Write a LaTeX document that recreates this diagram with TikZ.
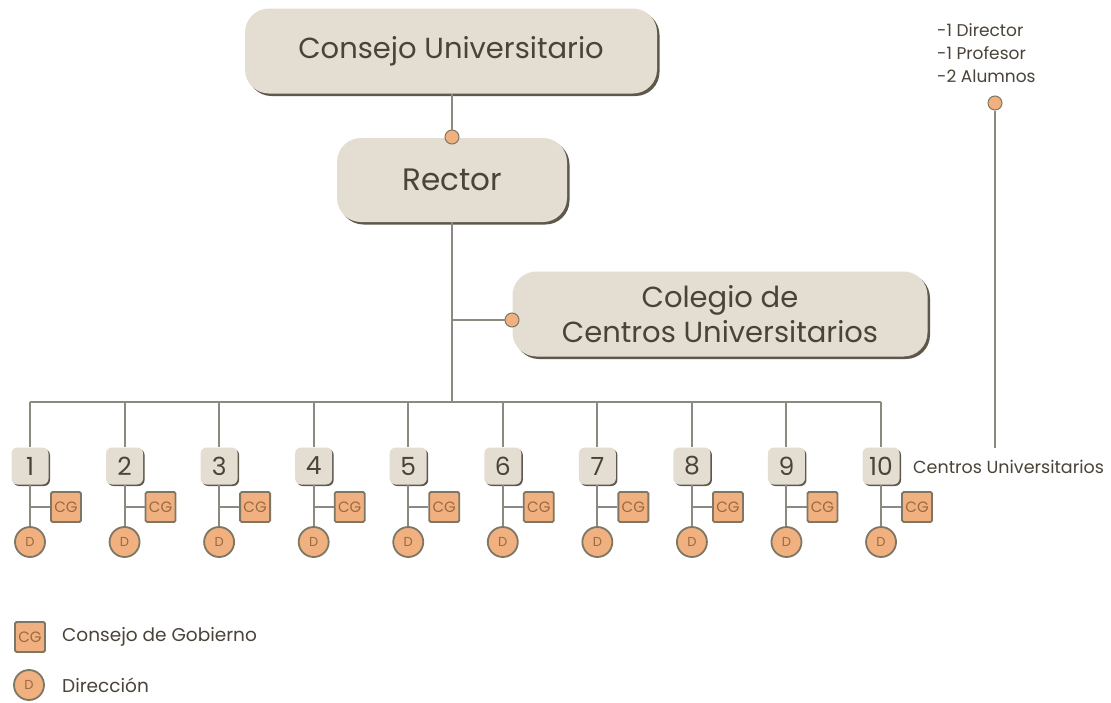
\documentclass[tikz,border=0pt]{standalone}
\usepackage{fontspec}
\setmainfont{Poppins}
\usetikzlibrary{shadows}
\definecolor{boxfill}{HTML}{E4DDD1}
\definecolor{boxshadow}{HTML}{5E584C}
\definecolor{txt}{HTML}{4A4438}
\definecolor{orangefill}{HTML}{F0B07F}
\definecolor{orangeline}{HTML}{7E7763}
\definecolor{orangetxt}{HTML}{9A6A40}
\definecolor{linec}{HTML}{8C8A80}
\tikzset{
  bigbox/.style={rectangle, rounded corners=24pt, fill=boxfill, text=txt,
    drop shadow={shadow xshift=2.5pt, shadow yshift=-2.5pt, fill=boxshadow, opacity=1},
    font=\fontsize{29}{35}\selectfont, align=center, inner sep=0pt},
  numbox/.style={rectangle, rounded corners=6pt, fill=boxfill, text=txt,
    drop shadow={shadow xshift=1.5pt, shadow yshift=-1.5pt, fill=boxshadow, opacity=1},
    minimum width=37pt, minimum height=37pt, inner sep=0pt,
    font=\fontsize{25}{25}\selectfont},
  cgbox/.style={rectangle, fill=orangefill, draw=orangeline, line width=1.8pt,
    rounded corners=1.5pt, minimum size=30pt, inner sep=0pt, text=orangetxt,
    font=\fontsize{15}{15}\selectfont},
  dcirc/.style={circle, fill=orangefill, draw=orangeline, line width=1.8pt,
    minimum size=30pt, inner sep=0pt, text=orangetxt,
    font=\fontsize{13}{13}\selectfont},
  dot/.style={circle, fill=orangefill, draw=orangeline, line width=1pt,
    minimum size=14pt, inner sep=0pt},
  conn/.style={draw=linec, line width=2pt},
  lbl/.style={text=txt, inner sep=0pt}
}
\begin{document}
\begin{tikzpicture}[x=1pt,y=-1pt]
\useasboundingbox[fill=white] (0,0) rectangle (1111,702);

% main boxes
\node[bigbox, minimum width=412pt, minimum height=85pt] (cu) at (451,51) {Consejo Universitario};
\node[bigbox, font=\fontsize{31}{36}\selectfont, minimum width=230pt, minimum height=84pt] (rec) at (452,180) {Rector};
\node[bigbox, minimum width=415pt, minimum height=85pt] (col) at (720,314) {Colegio de\\Centros Universitarios};

% connectors top
\node[dot] (d1) at (452,137) {};
\draw[conn] (cu.south -| d1) -- (d1);
\coordinate (bus) at (452,402);
\coordinate (br) at (452,320);
\draw[conn] (rec.south -| bus) -- (bus);
\node[dot] (d2) at (512,320) {};
\draw[conn] (br) -- (d2);

% bus
\coordinate (bl) at (30,402);
\coordinate (brr) at (881,402);
\draw[conn] (bl) -- (brr);

\foreach \i in {1,...,10} {
  \pgfmathsetmacro{\xx}{30+94.56*(\i-1)}
  \coordinate (t\i) at (\xx,402);
  \coordinate (j\i) at (\xx,507);
  \node[numbox] (n\i) at (\xx,466) {\i};
  \node[cgbox] (cg\i) at (\xx+36,507) {CG};
  \node[dcirc] (dd\i) at (\xx,542) {D};
  \draw[conn] (t\i) -- (n\i.north);
  \draw[conn] (n\i.south) -- (dd\i.north);
  \draw[conn] (j\i) -- (cg\i.west);
}

\node[lbl, anchor=west, font=\fontsize{17.5}{17.5}\selectfont] (cent) at (913,467) {Centros Universitarios};

% right side
\node[lbl, anchor=west, align=left, font=\fontsize{17}{23}\selectfont] (mem) at (937,53) {-1 Director\\-1 Profesor\\-2 Alumnos};
\node[dot] (d3) at (995,103) {};
\coordinate (rend) at (995,448);
\draw[conn] (d3) -- (rend);

% legend
\node[cgbox] (lcg) at (30,637) {CG};
\node[lbl, anchor=west, font=\fontsize{18.5}{18.5}\selectfont] (lcgt) at (62,637) {Consejo de Gobierno};
\node[dcirc] (ld) at (29,685) {D};
\node[lbl, anchor=west, font=\fontsize{18.5}{18.5}\selectfont] (ldt) at (62,685) {Dirección};
\end{tikzpicture}
\end{document}
